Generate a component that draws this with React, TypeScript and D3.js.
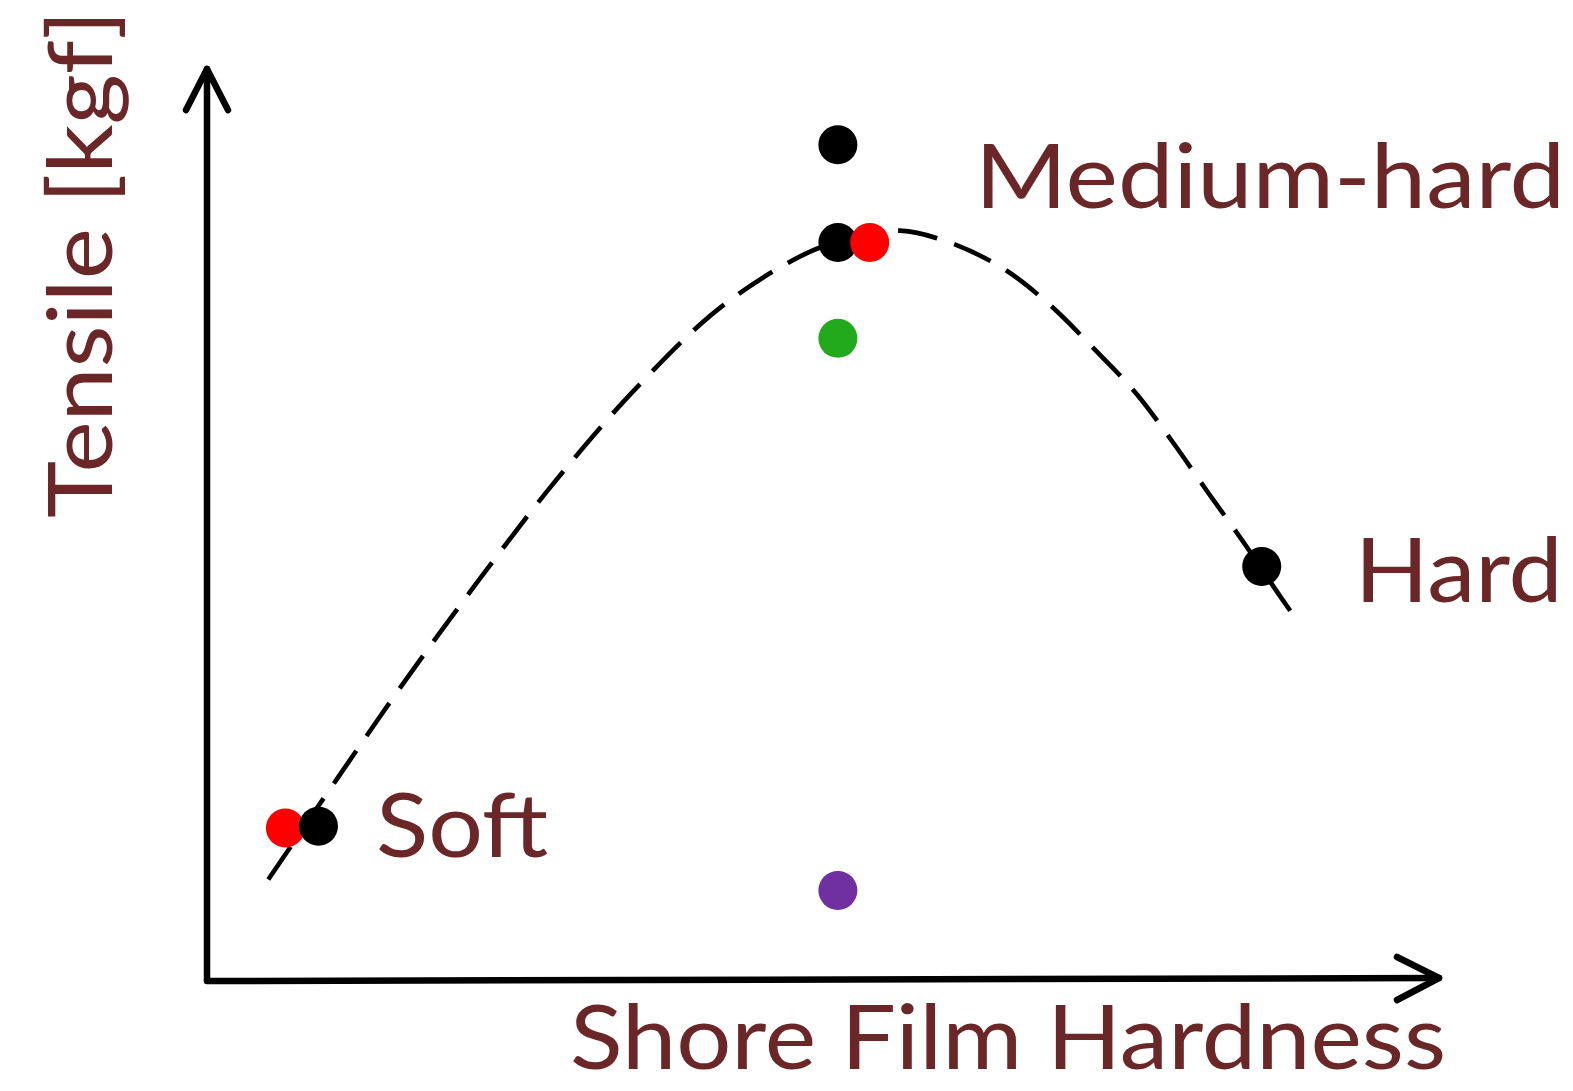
import React from 'react';
import * as d3 from 'd3';

// hardness (arbitrary units) / tensile (arbitrary units) along the dashed trend
const curveHardness = [5.0, 10.6, 16.3, 22.2, 28.3, 34.9, 42.0, 49.1, 53.3, 56.6, 60.4, 64.9, 68.8, 72.3, 75.8, 78.8, 81.7, 84.6, 87.4, 89.1];
const curveTensile = [11.1, 22.2, 33.3, 44.2, 54.9, 65.2, 74.4, 80.4, 82.2, 82.8, 81.6, 78.7, 74.6, 69.9, 64.9, 59.5, 53.9, 48.4, 42.8, 39.5];

const pointHardness = [6.4, 9.1, 51.5, 51.5, 54.1, 51.5, 51.5, 86.1];
const pointTensile = [16.8, 17.0, 92.3, 81.5, 81.5, 70.9, 9.9, 45.7];
const pointColors = ['#ff0000', '#000000', '#000000', '#000000', '#ff0000', '#22aa1c', '#7030a0', '#000000'];

const classLabels = ['Soft', 'Medium-hard', 'Hard'];
const classHardness = [13.8, 62.7, 93.7];
const classTensile = [13.6, 85.3, 41.8];
const classWidths = [172, 590, 208];

const textColor = '#6b2727';
const font = 'Lato, "Open Sans", sans-serif';

export default function App() {
  const width = 1573, height = 1091;
  const x = d3.scaleLinear().domain([0, 100]).range([207, 1432]);
  const y = d3.scaleLinear().domain([0, 100]).range([980, 75]);

  const curveData = curveHardness.map((h, i) => [h, curveTensile[i]] as [number, number]);
  const line = d3.line<[number, number]>()
    .x(d => x(d[0]))
    .y(d => y(d[1]))
    .curve(d3.curveCatmullRom.alpha(0.5));

  const x0 = x(0), y0 = y(0);
  const xEnd = x(100) + 7, yTop = y(100) - 6;

  return (
    <svg width={width} height={height} style={{ position: 'absolute', left: 0, top: 0, background: '#fff' }}>
      <g stroke="#000" strokeWidth={6.5} fill="none" strokeLinecap="round" strokeLinejoin="round">
        {/* y axis with arrow */}
        <line x1={x0} y1={y0} x2={x0} y2={yTop} />
        <polyline points={`${x0 - 21},${yTop + 41} ${x0},${yTop} ${x0 + 21},${yTop + 41}`} />
        {/* x axis with arrow */}
        <line x1={x0} y1={y0 + 1} x2={xEnd} y2={y0 - 2} />
        <polyline points={`${xEnd - 42},${y0 - 23} ${xEnd},${y0 - 2} ${xEnd - 42},${y0 + 20}`} />
      </g>

      <path d={line(curveData) || ''} fill="none" stroke="#000" strokeWidth={4.6}
        strokeDasharray="40 18" strokeLinecap="butt" />

      {pointHardness.map((h, i) => (
        <circle key={i} cx={x(h)} cy={y(pointTensile[i])} r={19.5} fill={pointColors[i]} />
      ))}

      <g fill={textColor} fontFamily={font} fontSize={90}>
        {classLabels.map((t, i) => (
          <text key={t} x={x(classHardness[i])} y={y(classTensile[i])}
            textLength={classWidths[i]} lengthAdjust="spacingAndGlyphs">{t}</text>
        ))}
        <text x={570} y={1069} textLength={876} lengthAdjust="spacingAndGlyphs">Shore Film Hardness</text>
        <text transform="translate(112,518) rotate(-90)" textLength={508} lengthAdjust="spacingAndGlyphs">Tensile [kgf]</text>
      </g>
    </svg>
  );
}
